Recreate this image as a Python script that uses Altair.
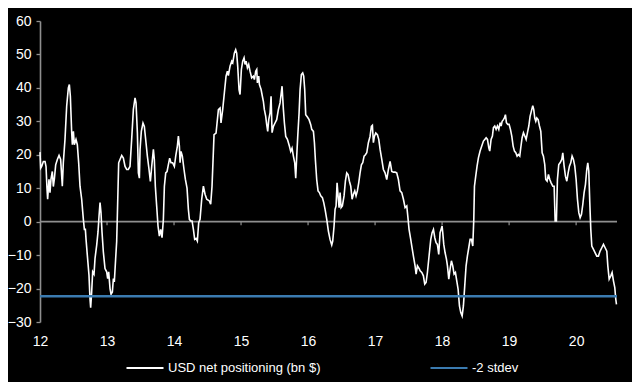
import altair as alt
import pandas as pd

# ---- data ----
dates = [
    12.000, 12.010, 12.025, 12.050, 12.075, 12.090, 12.104, 12.114, 12.134, 12.149,
    12.164, 12.184, 12.199, 12.214, 12.234, 12.259, 12.284, 12.308, 12.333, 12.348,
    12.373, 12.398, 12.423, 12.438, 12.453, 12.473, 12.483, 12.498, 12.512, 12.537,
    12.557, 12.577, 12.597, 12.622, 12.647, 12.662, 12.677, 12.687, 12.706, 12.731,
    12.746, 12.756, 12.771, 12.786, 12.806, 12.821, 12.846, 12.866, 12.881, 12.896,
    12.910, 12.925, 12.945, 12.970, 12.995, 13.010, 13.025, 13.045, 13.060, 13.080,
    13.095, 13.109, 13.129, 13.144, 13.154, 13.174, 13.194, 13.219, 13.244, 13.269,
    13.294, 13.318, 13.343, 13.368, 13.393, 13.418, 13.433, 13.453, 13.468, 13.483,
    13.493, 13.512, 13.537, 13.557, 13.582, 13.602, 13.627, 13.647, 13.667, 13.692,
    13.706, 13.721, 13.741, 13.761, 13.781, 13.801, 13.821, 13.841, 13.856, 13.876,
    13.896, 13.915, 13.935, 13.955, 13.980, 14.005, 14.025, 14.050, 14.065, 14.080,
    14.090, 14.104, 14.124, 14.149, 14.169, 14.194, 14.214, 14.229, 14.249, 14.269,
    14.289, 14.308, 14.328, 14.348, 14.368, 14.388,
    14.413, 14.438, 14.463, 14.488, 14.527, 14.547, 14.567, 14.597, 14.627, 14.662,
    14.687, 14.701, 14.726, 14.751, 14.776, 14.796, 14.811, 14.836, 14.861, 14.876,
    14.900, 14.920, 14.935, 14.950, 14.970, 14.985, 15.005, 15.025, 15.045, 15.060,
    15.075, 15.095, 15.114, 15.134, 15.159, 15.184, 15.199, 15.219, 15.234, 15.244,
    15.264, 15.274, 15.299, 15.318, 15.333, 15.348, 15.368, 15.383, 15.398, 15.413,
    15.433, 15.448, 15.463, 15.483, 15.507, 15.532, 15.557, 15.582, 15.597, 15.612,
    15.632, 15.647, 15.667, 15.692, 15.721, 15.741, 15.761, 15.781, 15.801, 15.816,
    15.831, 15.846, 15.866, 15.881, 15.900, 15.920, 15.935, 15.950, 15.965, 15.990,
    16.015, 16.040, 16.055, 16.080, 16.095, 16.109, 16.129, 16.149, 16.169, 16.189,
    16.214, 16.234, 16.254, 16.279, 16.303, 16.328, 16.353, 16.368, 16.388, 16.403,
    16.418, 16.433, 16.448, 16.463, 16.478, 16.493, 16.512, 16.537, 16.557, 16.577,
    16.597, 16.617, 16.637, 16.657, 16.677, 16.697, 16.716, 16.736, 16.756, 16.776,
    16.796, 16.816, 16.836, 16.856, 16.876, 16.900, 16.925, 16.945, 16.960, 16.975,
    16.990, 17.010, 17.035, 17.055, 17.075, 17.100, 17.124, 17.149, 17.174, 17.199,
    17.224, 17.249, 17.274, 17.299, 17.323, 17.348, 17.373, 17.398, 17.423, 17.448,
    17.473, 17.488, 17.507, 17.532, 17.552, 17.572, 17.597, 17.612, 17.632, 17.662,
    17.672, 17.697, 17.721, 17.741, 17.761, 17.781, 17.806, 17.831, 17.851, 17.871,
    17.891, 17.910, 17.930, 17.950, 17.970, 17.985, 18.000, 18.010, 18.025, 18.045,
    18.065, 18.080, 18.100, 18.119, 18.139, 18.159, 18.179, 18.199, 18.219, 18.239,
    18.259, 18.279, 18.299, 18.318, 18.338, 18.358, 18.378, 18.398, 18.418, 18.438,
    18.458, 18.473, 18.483, 18.502, 18.522, 18.542, 18.567, 18.592, 18.617, 18.637,
    18.657, 18.677, 18.697, 18.711, 18.731, 18.751, 18.766, 18.786, 18.806, 18.826,
    18.846, 18.866, 18.881, 18.896, 18.915, 18.930, 18.945, 18.960, 18.980, 19.000,
    19.020, 19.040, 19.060, 19.080, 19.100, 19.119, 19.139, 19.159, 19.174, 19.194,
    19.214, 19.234, 19.254, 19.274, 19.294, 19.313, 19.338, 19.353, 19.368, 19.383,
    19.398, 19.413, 19.433, 19.453, 19.473, 19.493, 19.512, 19.532, 19.547, 19.567,
    19.587, 19.607, 19.627, 19.652, 19.672, 19.687, 19.706, 19.721, 19.741, 19.761,
    19.786, 19.801, 19.821, 19.841, 19.861, 19.881, 19.900, 19.920, 19.940, 19.960,
    19.980, 20.000, 20.020, 20.040, 20.060, 20.080, 20.100, 20.119, 20.139, 20.159,
    20.174, 20.189, 20.204, 20.219, 20.234, 20.259, 20.284, 20.308, 20.333, 20.358,
    20.383, 20.408, 20.433, 20.458, 20.473, 20.493, 20.517, 20.537, 20.557, 20.577,
    20.592, 20.602,
]

usd_net = [
    20.8, 16.0, 16.5, 18.0, 18.0, 16.5, 10.0, 6.7, 12.7, 8.7,
    12.7, 15.0, 10.5, 12.7, 17.0, 18.6, 19.8, 18.6, 10.6, 17.6,
    24.6, 34.5, 40.0, 41.0, 37.5, 26.6, 23.0, 27.0, 23.0, 24.6,
    23.0, 17.6, 10.6, 6.7, 0.7, -2.3, -2.3, -5.3, -10.0, -16.0,
    -23.0, -25.7, -21.0, -15.0, -15.7, -11.0, -7.0, -3.0, 1.7, 5.7,
    2.7, -3.0, -9.0, -14.0, -15.0, -17.0, -15.0, -20.0, -21.7, -21.0,
    -17.0, -18.0, -11.0, -6.0, 1.7, 17.6, 18.6, 19.8, 19.0, 16.5,
    15.6, 15.6, 16.5, 24.6, 33.5, 37.0, 35.5, 26.6, 14.6, 13.0,
    21.6, 27.0, 29.5, 28.5, 23.6, 19.6, 15.6, 12.0, 16.5, 21.6,
    18.6, 10.6, 4.7, -1.3, -4.3, -2.3, -4.8, 0.7, 10.6, 14.6,
    15.0, 17.0, 19.0, 17.6, 17.6, 16.5, 19.6, 22.6, 25.6, 22.6,
    17.6, 21.0, 19.6, 15.6, 12.7, 10.0, 3.7, 0.7, 0.2, 0.2,
    -2.3, -5.3, -5.0, -5.8, -0.3, 0.7,
    6.7, 10.6, 8.2, 6.7, 6.2, 5.2, 10.6, 26.0, 26.5, 33.5,
    34.0, 29.5, 33.5, 38.5, 43.5, 45.0, 43.7, 46.5, 48.0, 47.5,
    50.4, 51.4, 50.4, 46.5, 39.5, 38.0, 45.5, 48.0, 49.0, 47.0,
    48.0, 46.0, 47.0, 45.0, 43.0, 43.5, 42.5, 45.0, 45.5, 41.5,
    43.5, 41.0, 39.5, 37.5, 36.0, 33.5, 31.5, 29.0, 27.0, 30.5,
    32.5, 37.5, 26.6, 28.5, 29.5, 30.5, 33.5, 35.5, 38.0, 40.5,
    33.5, 29.5, 25.5, 24.6, 22.6, 21.0, 22.0, 19.6, 17.6, 13.0,
    19.6, 25.5, 32.5, 39.5, 44.0, 44.5, 43.5, 39.5, 32.0, 31.3,
    30.5, 29.0, 27.6, 27.0, 23.6, 18.6, 12.6, 9.2, 8.7, 7.7,
    7.2, 5.7, 3.7, 0.7, -2.8, -5.3, -7.0, -5.8, -1.3, 3.7,
    4.7, 11.6, 7.7, 4.2, 8.7, 4.2, 4.7, 7.7, 12.1, 14.6,
    14.1, 12.1, 10.6, 6.7, 8.2, 9.2, 7.7, 9.2, 11.6, 14.6,
    17.0, 17.6, 19.6, 20.0, 20.6, 23.6, 25.5, 28.5, 28.8, 23.6,
    25.5, 26.5, 26.0, 24.6, 21.6, 18.6, 15.6, 14.6, 12.6, 15.6,
    18.0, 15.0, 14.8, 14.8, 14.6, 12.6, 9.2, 8.7, 6.7, 4.2,
    4.7, 1.7, -2.3, -5.3, -7.8, -10.3, -13.2, -15.7, -13.2, -14.2,
    -14.7, -15.2, -16.2, -18.7, -18.2, -15.2, -10.2, -5.3, -3.3, -2.3,
    -4.8, -6.3, -6.8, -9.8, -3.3, -2.3, -1.3, -3.3, -6.8, -9.3,
    -11.2, -13.2, -17.2, -14.2, -11.7, -13.2, -15.7, -15.2, -17.7, -20.2,
    -25.2, -27.2, -28.2, -25.2, -19.2, -13.2, -10.2, -7.8, -5.3, -5.3,
    -7.3, 0.7, 10.6, 13.6, 16.6, 19.1, 21.1, 22.6, 24.1, 24.6,
    25.1, 24.6, 22.1, 21.1, 24.6, 25.6, 28.1, 28.6, 27.6, 28.6,
    27.6, 29.6, 28.6, 30.0, 30.5, 31.0, 32.0, 29.6, 29.1, 29.1,
    27.6, 25.6, 22.6, 21.1, 20.6, 19.6, 20.1, 19.6, 22.1, 25.1,
    26.6, 25.6, 24.6, 26.6, 28.6, 31.5, 33.5, 34.7, 33.5, 31.0,
    30.0, 31.0, 30.5, 28.6, 27.0, 20.6, 19.6, 17.1, 12.6, 12.1,
    14.1, 12.6, 11.6, 10.6, 10.6, 0.2, 0.2, 12.6, 17.1, 17.6,
    18.6, 20.6, 16.6, 13.6, 12.1, 14.6, 16.6, 17.6, 19.6, 18.6,
    16.6, 12.6, 6.7, 2.7, 1.2, 2.2, 5.2, 8.7, 11.1, 15.6,
    17.6, 15.1, 5.7, -2.3, -7.3, -8.3, -9.3, -10.3, -10.3, -8.8,
    -7.8, -6.8, -7.8, -8.8, -13.2, -17.2, -16.2, -15.2, -17.7, -19.7,
    -23.2, -24.7,
]

stdev_level = -22.3
x_range = [12.0, 20.61]
years = [12, 13, 14, 15, 16, 17, 18, 19, 20]
y_ticks = [-30, -20, -10, 0, 10, 20, 30, 40, 50, 60]
series_names = ["USD net positioning (bn $)", "-2 stdev"]
series_colors = ["#ffffff", "#3b7bb0"]

# ---- tables ----
main_df = pd.DataFrame({"t": dates, "v": usd_net, "series": series_names[0]})
stdev_df = pd.DataFrame({"t": x_range, "v": [stdev_level, stdev_level], "series": series_names[1]})
zero_df = pd.DataFrame({"t": [x_range[0]], "t2": [x_range[1]], "v": [0]})
tick_df = pd.DataFrame({"t": years[1:], "v": [0] * 8, "v1": [-1.1] * 8})

FONT = "Liberation Sans"
GREY = "#8f8f8f"

xscale = alt.Scale(domain=x_range, nice=False, zero=False)
yscale = alt.Scale(domain=[-30, 60], nice=False, zero=False)
cscale = alt.Scale(domain=series_names, range=series_colors)

xaxis = alt.Axis(values=years, format="d", title=None, domain=False, ticks=False,
                 grid=False, labelColor="white", labelFont=FONT, labelFontSize=14,
                 labelPadding=12, labelFlush=False, labelOverlap=False, labelBound=False)
yaxis = alt.Axis(values=y_ticks, title=None, grid=False, domainColor=GREY,
                 domainWidth=1.6, tickColor=GREY, tickSize=4, tickWidth=1.3,
                 labelColor="white", labelFont=FONT, labelFontSize=14, labelPadding=5,
                 labelFlush=False, labelOverlap=False, labelBound=False)

legend = alt.Legend(title=None, orient="none", legendX=85, legendY=327,
                    direction="horizontal", columns=2, symbolType="stroke",
                    symbolSize=1369, symbolStrokeWidth=2.2, labelColor="white",
                    labelFont=FONT, labelFontSize=13, labelOffset=3, labelLimit=400,
                    columnPadding=105, padding=0)

X = alt.X("t:Q", scale=xscale, axis=xaxis)
Y = alt.Y("v:Q", scale=yscale, axis=yaxis)

zero_line = alt.Chart(zero_df).mark_rule(color=GREY, strokeWidth=1.6).encode(
    x=X, x2="t2:Q", y=Y
)

tick_marks = alt.Chart(tick_df).mark_rule(color=GREY, strokeWidth=1.2).encode(
    x=X, y=Y, y2="v1:Q"
)

usd_line = alt.Chart(main_df).mark_line(strokeWidth=1.6).encode(
    x=X, y=Y,
    color=alt.Color("series:N", scale=cscale, legend=legend, sort=series_names),
)

stdev_line = alt.Chart(stdev_df).mark_line(strokeWidth=2.6).encode(
    x=X, y=Y,
    color=alt.Color("series:N", scale=cscale, legend=legend, sort=series_names),
)

chart = (
    alt.layer(zero_line, tick_marks, usd_line, stdev_line)
    .properties(
        width=577,
        height=301,
        autosize=alt.AutoSizeParams(type="none"),
        padding={"left": 32, "top": 13, "right": 15, "bottom": 60},
        background="black",
    )
    .configure_view(stroke=None)
)

chart.save("out.html", embed_options={"renderer": "svg", "actions": False})
